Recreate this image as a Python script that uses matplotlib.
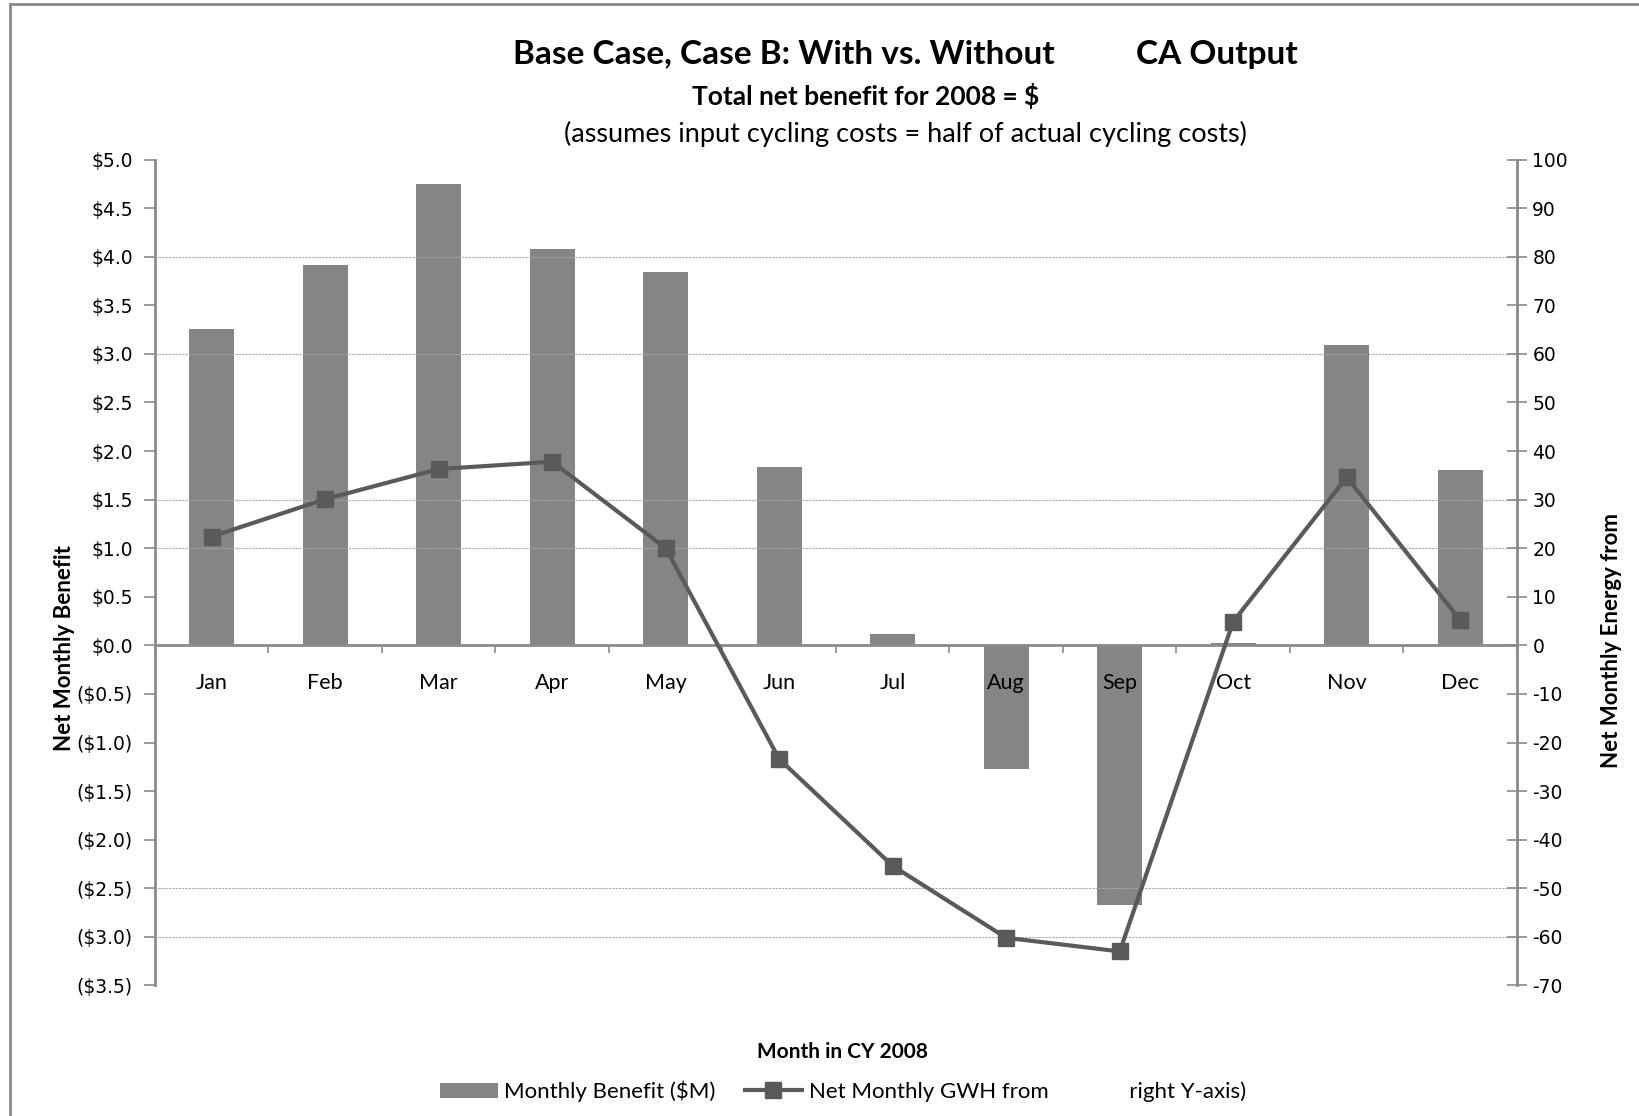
# Net monthly benefit (bars, left axis) and net monthly energy (line, right axis), CY 2008
import numpy as np
import matplotlib.pyplot as plt
from matplotlib.ticker import FuncFormatter, MultipleLocator
from matplotlib.patches import Rectangle

plt.rcParams["axes.unicode_minus"] = False

months = ["Jan", "Feb", "Mar", "Apr", "May", "Jun", "Jul", "Aug", "Sep", "Oct", "Nov", "Dec"]
benefit_musd = [3.26, 3.92, 4.75, 4.08, 3.84, 1.84, 0.12, -1.27, -2.67, 0.02, 3.09, 1.81]
energy_gwh = [22.4, 30.1, 36.3, 37.8, 20.0, -23.4, -45.4, -60.2, -63.0, 4.9, 34.6, 5.2]
grid_levels = [80, 60, 30, 20, -50, -60]

bar_col = "#858585"
line_col = "#5a5a5a"
axis_col = "#8a8a8a"

fig = plt.figure(figsize=(16.4, 11.16), dpi=100)
ax = fig.add_axes([0.0945, 0.117, 0.8305, 0.74])
ax2 = ax.twinx()

x = np.arange(len(months))
ax.bar(x, benefit_musd, width=0.4, color=bar_col, zorder=2, label="Monthly Benefit ($M)")
ax.set_axisbelow(False)
ax.set_xlim(-0.5, len(months) - 0.5)
ax.set_ylim(-3.5, 5.0)
ax.yaxis.set_major_locator(MultipleLocator(0.5))
ax.yaxis.set_major_formatter(FuncFormatter(
    lambda v, p: f"${v:.1f}" if v >= -1e-9 else f"(${-v:.1f})"))

ax2.set_ylim(-70, 100)
ax2.yaxis.set_major_locator(MultipleLocator(10))
for g in grid_levels:
    ax2.axhline(g, color="#a8a8a8", lw=0.8, ls=(0, (2, 1)), zorder=0)
ax2.plot(x, energy_gwh, color=line_col, lw=3, marker="s", markersize=11,
         markerfacecolor=line_col, markeredgecolor=line_col, zorder=3,
         label="Net Monthly GWH from              right Y-axis)")

# x axis sits at zero, ticks at category boundaries
ax.spines["bottom"].set_position(("data", 0))
ax.set_xticks(np.arange(-0.5, len(months), 1.0), minor=False)
ax.set_xticklabels([])
ax.set_xticks(x, minor=True)
ax.set_xticklabels(months, minor=True, family="Lato")
ax.tick_params(axis="x", which="major", direction="out", length=6, color=axis_col, width=1.2)
ax.tick_params(axis="x", which="minor", length=0, pad=20, labelsize=15.5)

for a in (ax, ax2):
    a.spines["top"].set_visible(False)
ax.spines["right"].set_visible(False)
ax2.spines["bottom"].set_visible(False)
ax.spines["left"].set_color(axis_col)
ax.spines["left"].set_linewidth(2)
ax.spines["bottom"].set_color(axis_col)
ax.spines["bottom"].set_linewidth(2)
ax2.spines["right"].set_color(axis_col)
ax2.spines["right"].set_linewidth(2)
ax2.spines["left"].set_visible(False)

ax.tick_params(axis="y", direction="out", length=8, color=axis_col, width=1.2, labelsize=13.5, pad=8)
ax2.tick_params(axis="y", direction="inout", length=14, color=axis_col, width=1.2, labelsize=13.5, pad=4)

ax.set_ylabel("Net Monthly Benefit", family="Lato", fontweight="bold", fontsize=16)
ax.yaxis.set_label_coords(-0.059, 0.408)
ax2.set_ylabel("Net Monthly Energy from", family="Lato", fontweight="bold", fontsize=16)
ax2.yaxis.set_label_coords(1.062, 0.418)

fig.text(0.552, 0.951, "Base Case, Case B: With vs. Without          CA Output",
         ha="center", va="center", family="Lato", fontweight="bold", fontsize=24)
fig.text(0.528, 0.914, "Total net benefit for 2008 = $",
         ha="center", va="center", family="Lato", fontweight="bold", fontsize=19)
fig.text(0.552, 0.880, "(assumes input cycling costs = half of actual cycling costs)",
         ha="center", va="center", family="Lato", fontsize=19.5)
fig.text(0.514, 0.057, "Month in CY 2008", ha="center", va="center",
         family="Lato", fontweight="bold", fontsize=15)

h1, l1 = ax.get_legend_handles_labels()
h2, l2 = ax2.get_legend_handles_labels()
fig.legend(h1 + h2, l1 + l2, loc="center", bbox_to_anchor=(0.514, 0.022), ncol=2,
           frameon=False, prop={"family": "Lato", "size": 16}, handlelength=2.6,
           columnspacing=1.3, handletextpad=0.3)

# outer chart border
fig.add_artist(Rectangle((0.006, -0.02), 1.1, 1.016, transform=fig.transFigure,
                         fill=False, edgecolor="#8a8a8a", lw=2))

fig.savefig("out.png", dpi=100)
